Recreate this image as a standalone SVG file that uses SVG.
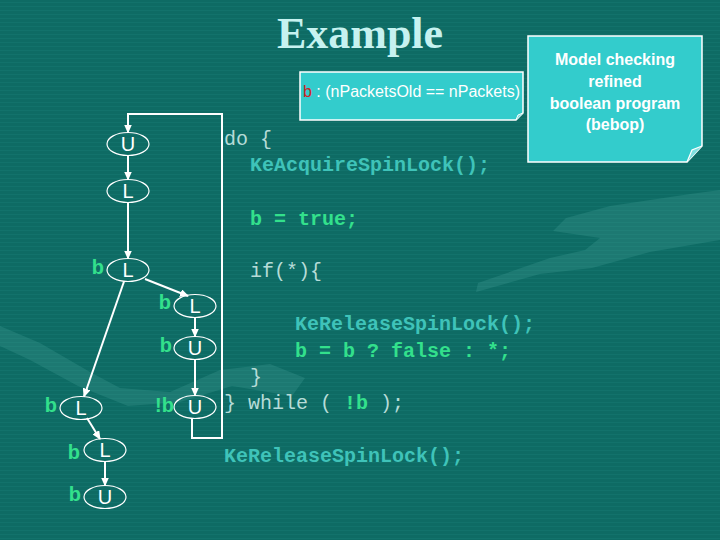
<svg xmlns="http://www.w3.org/2000/svg" width="720" height="540" viewBox="0 0 720 540">
<defs>
<pattern id="scan" width="4" height="4" patternUnits="userSpaceOnUse">
<rect width="4" height="4" fill="#0e6b64"/>
<rect y="2" width="4" height="1" fill="#12726b"/>
</pattern>
<marker id="arr" markerWidth="9" markerHeight="8" refX="8" refY="4" orient="auto" markerUnits="userSpaceOnUse">
<path d="M0,0 L9,4 L0,8 Z" fill="#ffffff"/>
</marker>
</defs>
<style>
.nd{fill:none;stroke:#ffffff;stroke-width:1.2}
.nl{font-family:"Liberation Sans",Arial,sans-serif;font-size:20px;fill:#ffffff;text-anchor:middle}
.bl{font-family:"Liberation Sans",Arial,sans-serif;font-size:20px;font-weight:bold;fill:#33e08c;text-anchor:end}
.ed{fill:none;stroke:#ffffff;stroke-width:2;marker-end:url(#arr)}
.code{font-family:"Liberation Mono","Courier New",monospace;font-size:20px;white-space:pre}
.thin{fill:#b6dcd8}
.teal{fill:#3fc3b9;font-weight:bold}
.grn{fill:#33e08c;font-weight:bold}
.note{fill:#33cccc;stroke:#ffffff;stroke-width:1.5}
.ntx{font-family:"Liberation Sans",Arial,sans-serif;fill:#ffffff}
</style>
<rect width="720" height="540" fill="url(#scan)"/>
<g id="background-hands" opacity="0.2" fill="#5cb3ab">
<path d="M720,190 L690,194 L610,206 L566,218 L553,231 L600,238 L585,250 L550,258 L478,283 L476,292 L540,274 L592,268 L650,252 L720,240 Z"/>
<path d="M0,326 L40,343 L90,372 L120,388 L170,392 L220,370 L270,364 L305,378 L292,396 L232,386 L180,402 L128,406 L78,386 L30,360 L0,346 Z"/>
</g>
<text x="360" y="48" font-family="'Liberation Serif','Times New Roman',serif" font-size="44" font-weight="bold" fill="#c6f2f0" text-anchor="middle">Example</text>
<g id="note-predicate">
<path class="note" d="M300,72 H523 V113 L516,120 H300 Z"/>
<path d="M523,113 L518,115 L516,120" fill="#7fe0e0" stroke="#ffffff" stroke-width="1"/>
<text class="ntx" x="303" y="97" font-size="16"><tspan fill="#cc2222">b</tspan> : (nPacketsOld == nPackets)</text>
</g>
<g id="note-bebop">
<path class="note" d="M528,36 H702 V146 L687,162 H528 Z"/>
<path d="M702,146 L692,150 L687,162" fill="#7fe0e0" stroke="#ffffff" stroke-width="1.2"/>
<text class="ntx" x="615" y="65" font-size="16" font-weight="bold" text-anchor="middle">Model checking</text>
<text class="ntx" x="615" y="87" font-size="16" font-weight="bold" text-anchor="middle">refined</text>
<text class="ntx" x="615" y="109" font-size="16" font-weight="bold" text-anchor="middle">boolean program</text>
<text class="ntx" x="615" y="130" font-size="16" font-weight="bold" text-anchor="middle">(bebop)</text>
</g>
<g id="code">
<text class="code thin" x="224" y="145">do {</text>
<text class="code teal" x="250" y="171">KeAcquireSpinLock();</text>
<text class="code grn" x="250" y="225">b = true;</text>
<text class="code thin" x="250" y="277">if(*){</text>
<text class="code teal" x="295" y="330">KeReleaseSpinLock();</text>
<text class="code grn" x="295" y="357">b = b ? false : *;</text>
<text class="code thin" x="250" y="383">}</text>
<text class="code thin" x="224" y="409">} while ( <tspan class="grn">!b</tspan> );</text>
<text class="code teal" x="224" y="462">KeReleaseSpinLock();</text>
</g>
<g id="connectors">
<path class="ed" d="M128,155.5 V179.5"/>
<path class="ed" d="M128,202.5 V258.5"/>
<path class="ed" d="M145,279 L188,296"/>
<path class="ed" d="M124,281.5 L84,396.5"/>
<path class="ed" d="M195,317.5 V336.5"/>
<path class="ed" d="M195,359.5 V395.5"/>
<path class="ed" d="M87,418 L100,439"/>
<path class="ed" d="M105,461.5 V485.5"/>
<path class="ed" d="M192,418.5 V438 H222 V114 H128 V132.5"/>
</g>
<g id="n1"><ellipse class="nd" cx="128" cy="144" rx="21" ry="11.5"/><text class="nl" x="128" y="151">U</text></g>
<g id="n2"><ellipse class="nd" cx="128" cy="191" rx="21" ry="11.5"/><text class="nl" x="128" y="198">L</text></g>
<g id="n3"><ellipse class="nd" cx="128" cy="270" rx="21" ry="11.5"/><text class="nl" x="128" y="277">L</text><text class="bl" x="104" y="274">b</text></g>
<g id="n4"><ellipse class="nd" cx="195" cy="306" rx="21" ry="11.5"/><text class="nl" x="195" y="313">L</text><text class="bl" x="171" y="309">b</text></g>
<g id="n5"><ellipse class="nd" cx="195" cy="348" rx="21" ry="11.5"/><text class="nl" x="195" y="355">U</text><text class="bl" x="172" y="352">b</text></g>
<g id="n6"><ellipse class="nd" cx="195" cy="407" rx="21" ry="11.5"/><text class="nl" x="195" y="414">U</text><text class="bl" x="174" y="412">!b</text></g>
<g id="n7"><ellipse class="nd" cx="81" cy="408" rx="21" ry="11.5"/><text class="nl" x="81" y="415">L</text><text class="bl" x="57" y="412">b</text></g>
<g id="n8"><ellipse class="nd" cx="105" cy="450" rx="21" ry="11.5"/><text class="nl" x="105" y="457">L</text><text class="bl" x="80" y="459">b</text></g>
<g id="n9"><ellipse class="nd" cx="105" cy="497" rx="21" ry="11.5"/><text class="nl" x="105" y="504">U</text><text class="bl" x="81" y="501">b</text></g>
</svg>
